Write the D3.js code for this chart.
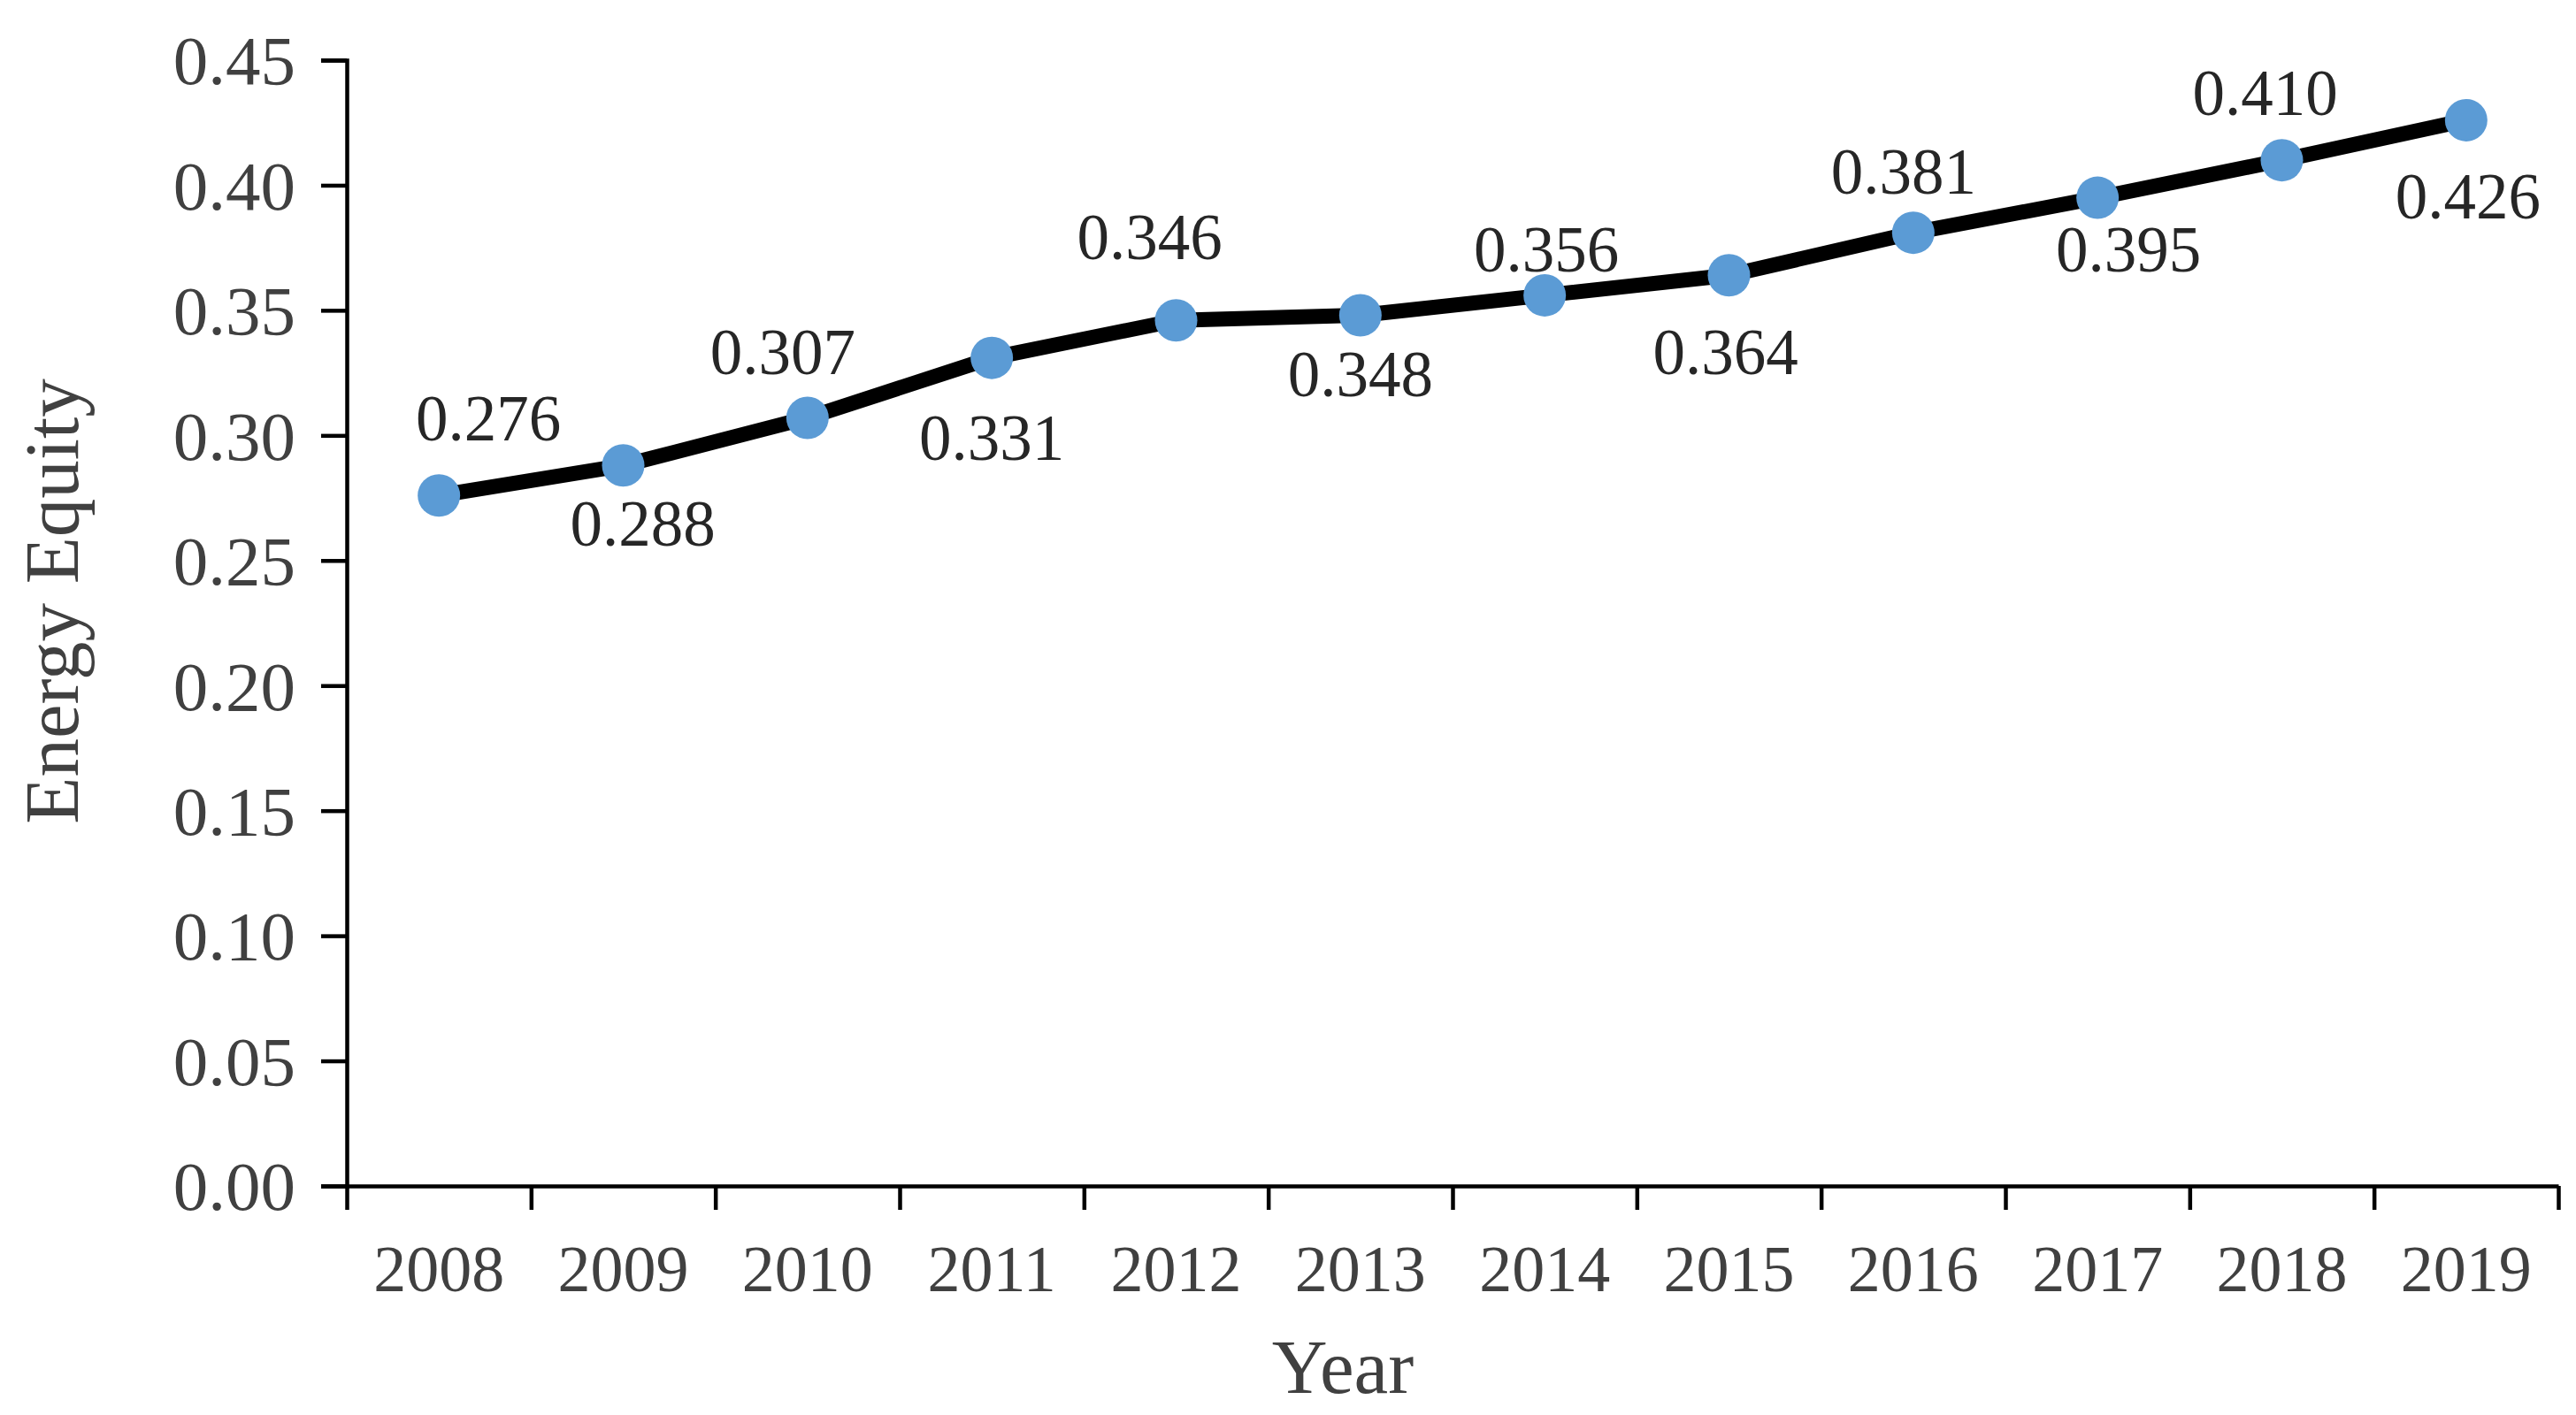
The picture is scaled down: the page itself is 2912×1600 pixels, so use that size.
<!DOCTYPE html>
<html>
<head>
<meta charset="utf-8">
<script src="https://cdn.jsdelivr.net/npm/d3@7"></script>
<style>
  html, body { margin: 0; padding: 0; background: #ffffff; }
  svg { display: block; }
</style>
</head>
<body>
<svg id="chart" width="2912" height="1600"></svg>
<script>
// ---- data ----
const years = ["2008","2009","2010","2011","2012","2013","2014","2015","2016","2017","2018","2019"];
const equity = [0.276, 0.288, 0.307, 0.331, 0.346, 0.348, 0.356, 0.364, 0.381, 0.395, 0.410, 0.426];
const yTicks = [0.00, 0.05, 0.10, 0.15, 0.20, 0.25, 0.30, 0.35, 0.40, 0.45];
const xTitle = "Year";
const yTitle = "Energy Equity";

// ---- layout (label placement offsets in px relative to each point) ----
const labelOffsets = [[56,-62],[22,91],[-28,-50],[0,115],[-30,-69],[0,91],[2,-27],[-4,112],[-11,-44],[35,83],[-19,-51],[2,111]];

(function () {
const svg = d3.select("#chart");
const plotLeft = 392, plotRight = 2892, plotTop = 68, plotBottom = 1341;
const font = "'Liberation Serif', 'Times New Roman', serif";

const x = d3.scaleBand().domain(years).range([plotLeft, plotRight]).padding(0);
const y = d3.scaleLinear().domain([0, 0.45]).range([plotBottom, plotTop]);
const xEdges = d3.scaleLinear().domain([0, years.length]).range([plotLeft, plotRight]);

// y axis
const yAxis = svg.append("g")
  .attr("transform", `translate(${plotLeft},0)`)
  .call(d3.axisLeft(y).tickValues(yTicks).tickFormat(d3.format(".2f")).tickSize(29).tickPadding(29));
yAxis.select(".domain").attr("stroke", "#000").attr("stroke-width", 4.5);
yAxis.selectAll(".tick line").attr("stroke", "#000").attr("stroke-width", 4.5);
yAxis.selectAll(".tick text")
  .attr("font-family", font).attr("font-size", 79).attr("fill", "#404040").attr("dy", "0.34em");

// x axis ticks at category boundaries
const xAxisTicks = svg.append("g")
  .attr("transform", `translate(0,${plotBottom})`)
  .call(d3.axisBottom(xEdges).tickValues(d3.range(years.length + 1)).tickFormat("").tickSize(27).tickSizeOuter(0));
xAxisTicks.select(".domain").attr("stroke", "#000").attr("stroke-width", 4.5);
xAxisTicks.selectAll(".tick line").attr("stroke", "#000").attr("stroke-width", 4.5);

// x axis labels at band centers
const xAxisLabels = svg.append("g")
  .attr("transform", `translate(0,${plotBottom})`)
  .call(d3.axisBottom(x).tickSize(0).tickPadding(0));
xAxisLabels.select(".domain").remove();
xAxisLabels.selectAll(".tick text")
  .attr("font-family", font).attr("font-size", 74).attr("fill", "#404040")
  .attr("dy", null).attr("y", 119);

// axis titles
svg.append("text")
  .attr("x", 1518).attr("y", 1575)
  .attr("text-anchor", "middle")
  .attr("font-family", font).attr("font-size", 87).attr("fill", "#404040")
  .text(xTitle);

svg.append("text")
  .attr("transform", `translate(88,680) rotate(-90)`)
  .attr("text-anchor", "middle")
  .attr("font-family", font).attr("font-size", 87).attr("fill", "#404040")
  .text(yTitle);

// line
const cx = (i) => x(years[i]) + x.bandwidth() / 2;
const line = d3.line().x((d, i) => cx(i)).y(d => y(d));
svg.append("path")
  .datum(equity)
  .attr("d", line)
  .attr("fill", "none")
  .attr("stroke", "#000")
  .attr("stroke-width", 17)
  .attr("stroke-linejoin", "round");

// markers
svg.append("g").selectAll("circle")
  .data(equity)
  .join("circle")
  .attr("cx", (d, i) => cx(i))
  .attr("cy", d => y(d))
  .attr("r", 24)
  .attr("fill", "#5B9BD5");

// data labels
svg.append("g").selectAll("text")
  .data(equity)
  .join("text")
  .attr("x", (d, i) => cx(i) + labelOffsets[i][0])
  .attr("y", (d, i) => y(d) + labelOffsets[i][1])
  .attr("text-anchor", "middle")
  .attr("font-family", font).attr("font-size", 73).attr("fill", "#262626")
  .text(d => d3.format(".3f")(d));
})();
</script>
</body>
</html>
